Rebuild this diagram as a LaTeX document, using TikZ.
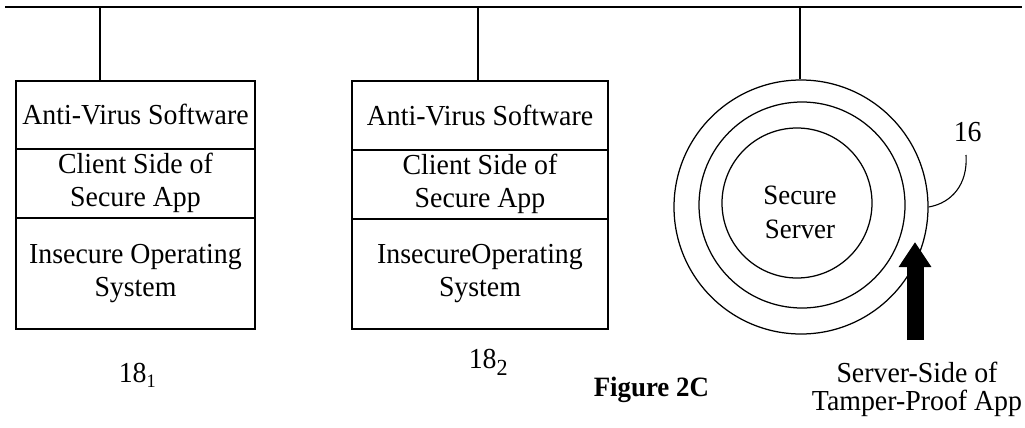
\documentclass[tikz,border=0pt]{standalone}
\usepackage{fontspec}
\setmainfont{Liberation Serif}[FakeStretch=0.96]
\usetikzlibrary{arrows.meta}
\begin{document}
\begin{tikzpicture}[x=1pt,y=-1pt,
  line width=1.5pt,
  txt/.style={font=\fontsize{29}{33}\selectfont, align=center, inner sep=0pt},
  cellA/.style={txt, draw, anchor=north, minimum width=239pt},
  cellB/.style={txt, draw, anchor=north, minimum width=256pt},
  ring/.style={draw, circle, inner sep=0pt, line width=1.25pt},
  fatarrow/.style={line width=17pt, -{Triangle[width=31pt,length=25pt]}},
  subnum/.style={font=\fontsize{29}{33}\selectfont, inner sep=0pt, anchor=base west}]
\useasboundingbox (0,0) rectangle (1025,428);

% network bus
\coordinate (busL) at (5,7);
\coordinate (busR) at (1022,7);
\draw (busL) -- (busR);
\coordinate (tap1) at (100,7);
\coordinate (tap2) at (478,7);
\coordinate (tap3) at (800,7);

% client 1
\node[cellA, minimum height=68pt]  (av1) at (135.5,80)  {Anti-Virus Software};
\node[cellA, minimum height=69pt]  (cs1) at (135.5,148) {Client Side of\\Secure App};
\node[cellA, minimum height=111pt] (os1) at (135.5,217) {Insecure Operating\\System};

% client 2
\node[cellB, minimum height=69pt]  (av2) at (480,80)  {Anti-Virus Software};
\node[cellB, minimum height=69pt]  (cs2) at (480,149) {Client Side of\\Secure App};
\node[cellB, minimum height=110pt] (os2) at (480,218) {InsecureOperating\\System};

% secure server rings
\node[ring, minimum size=254pt] (outer)  at (801,207) {};
\node[ring, minimum size=206pt] (middle) at (802,205) {};
\node[ring, minimum size=150pt] (inner)  at (797,203) {};
\node[font=\fontsize{28}{34}\selectfont, align=center, inner sep=0pt] (srvtxt) at (800,212) {Secure\\Server};

% bus taps
\draw (tap1) -- (tap1 |- av1.north);
\draw (tap2) -- (tap2 |- av2.north);
\draw (tap3) -- (tap3 |- outer.north);

% reference numerals
\node[subnum] (n181) at (118,382) {18\raisebox{-5pt}{\fontsize{19}{19}\selectfont 1}};
\node[subnum] (n182) at (468,368) {18\raisebox{-7pt}{\fontsize{23}{23}\selectfont 2}};
\node[subnum] (n16) at (953,141) {16};
\coordinate (lead16) at (966,155);
\draw[line width=1.1pt] (outer.east) .. controls (952,203) and (968,184) .. (lead16);

% caption
\node[font=\fontsize{28}{32}\selectfont\bfseries, inner sep=0pt, anchor=base west] (fig) at (593,396) {Figure 2C};

% server-side application label and arrow
\node[font=\fontsize{29}{28}\selectfont, align=center, inner sep=0pt] (srv) at (917,389) {Server-Side of\\Tamper-Proof App};
\coordinate (arrTail) at (915,340);
\coordinate (arrTip) at (915,242);
\draw[fatarrow] (arrTail) -- (arrTip);
\end{tikzpicture}
\end{document}
